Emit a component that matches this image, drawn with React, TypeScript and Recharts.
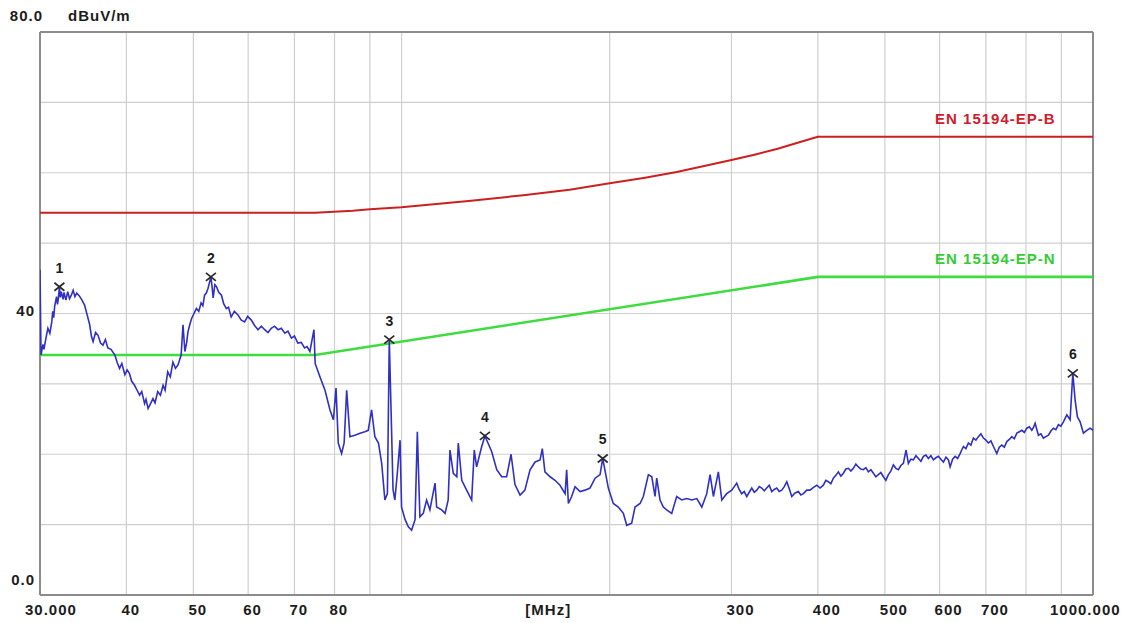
import React from 'react';
import {
  ComposedChart,
  Line,
  Scatter,
  XAxis,
  YAxis,
  CartesianGrid,
  ReferenceLine,
  ReferenceDot
} from 'recharts';

const scanLow: [number, number][] = [
  [30.0, 46.2], [30.1, 34.1], [30.3, 35.6], [30.4, 34.9], [30.6, 36.5], [30.8, 37.9], [31.0, 37.2],
  [31.2, 38.8], [31.3, 40.3], [31.4, 39.4], [31.5, 41.0], [31.7, 42.4], [31.8, 41.3], [31.9, 42.2],
  [32.0, 43.8], [32.1, 42.3], [32.2, 43.1], [32.4, 42.0], [32.5, 43.0], [32.7, 41.9], [32.9, 43.1],
  [33.1, 42.1], [33.3, 42.6], [33.5, 43.3], [33.7, 42.4], [33.9, 42.9], [34.2, 42.5], [34.5, 41.9],
  [34.8, 41.2], [35.1, 39.8], [35.4, 38.4], [35.6, 36.8], [35.8, 36.0], [36.1, 37.3], [36.4, 36.9],
  [36.7, 35.8], [37.0, 35.5], [37.3, 36.3], [37.6, 35.1], [38.0, 34.9], [38.5, 34.1], [38.8, 33.0],
  [39.1, 32.2], [39.4, 32.9], [39.8, 31.3], [40.1, 32.0], [40.4, 31.5], [40.7, 30.4], [41.1, 29.8],
  [41.4, 29.2], [41.8, 28.4], [42.1, 28.9], [42.5, 27.2], [42.7, 27.8], [43.0, 26.5], [43.3, 27.1],
  [43.7, 27.9], [44.0, 27.3], [44.4, 28.9], [44.8, 28.4], [45.2, 29.8], [45.5, 29.1], [45.9, 31.7],
  [46.3, 31.0], [46.7, 33.1], [47.1, 32.2], [47.5, 32.7], [48.0, 34.1], [48.3, 38.4], [48.6, 34.6],
  [48.9, 35.9], [49.1, 37.4], [49.4, 38.4], [49.7, 39.3], [50.1, 40.0], [50.5, 40.7], [50.9, 40.3],
  [51.3, 41.5], [51.6, 41.1], [51.9, 42.6], [52.2, 42.9], [52.5, 43.6], [53.0, 45.2], [53.2, 43.9],
  [53.4, 42.2], [53.7, 44.1], [54.0, 43.8], [54.4, 43.0], [54.9, 42.6], [55.3, 41.4], [55.8, 40.7],
  [56.2, 40.9], [56.7, 39.5], [57.3, 40.3], [58.0, 39.8], [58.6, 39.1], [59.3, 38.8], [59.9, 39.6],
  [60.6, 39.1], [61.3, 38.3], [62.0, 37.7], [62.7, 38.2], [63.4, 37.7], [64.1, 37.3], [64.8, 37.9],
  [65.5, 38.2], [66.3, 37.7], [67.0, 37.9], [67.8, 37.2], [68.5, 37.5], [69.3, 36.5], [70.0, 36.8],
  [70.8, 35.8], [71.6, 35.9], [72.4, 35.1], [73.0, 35.3], [73.7, 34.6], [74.7, 37.7], [75.0, 32.9]
];

const scanMid: [number, number][] = [
  [76.2, 31.0], [77.5, 29.1], [78.8, 26.3], [79.7, 24.9], [80.4, 29.4], [81.0, 21.6], [81.9, 20.1],
  [82.6, 21.6], [83.3, 29.1], [84.2, 22.5], [85.6, 22.7], [87.1, 23.0], [88.5, 23.2], [89.5, 23.4],
  [90.5, 26.3], [91.5, 22.5], [92.6, 21.6], [93.6, 18.7], [94.6, 13.5], [95.4, 14.4], [96.0, 36.3],
  [96.7, 24.0], [97.2, 15.0], [97.8, 13.5], [98.6, 17.3], [99.5, 22.0], [100.0, 12.5], [101.2, 10.7],
  [102.3, 9.7], [103.4, 9.2], [104.6, 10.7], [105.4, 23.2], [106.3, 11.1], [107.5, 11.6], [108.7, 13.5],
  [109.9, 12.1], [111.8, 15.9], [112.4, 12.5], [114.3, 12.1], [115.6, 11.6], [116.8, 13.5], [117.5, 20.6],
  [118.8, 17.3], [120.2, 16.8], [120.8, 21.6], [122.2, 16.3], [124.2, 14.9], [126.3, 13.5], [127.4, 20.6],
  [128.4, 18.2], [130.6, 21.1], [132.0, 22.6], [135.0, 20.4], [137.3, 17.8], [139.6, 16.8], [141.9, 16.8],
  [144.0, 20.0], [145.9, 15.7], [148.4, 14.2], [150.8, 14.9], [153.4, 17.8], [156.0, 18.9], [158.6, 19.2],
  [159.8, 20.8], [161.2, 17.5], [164.0, 16.8], [166.7, 16.3], [169.5, 15.6], [172.4, 14.4], [173.3, 17.8],
  [174.3, 13.0], [176.2, 14.0], [178.2, 15.4], [181.2, 14.7], [184.2, 14.9], [187.3, 15.2], [190.5, 16.6],
  [193.7, 17.1], [195.4, 19.4], [199.1, 15.2]
];

const scanHigh: [number, number][] = [
  [202.4, 13.0], [205.8, 12.5], [209.3, 11.6], [211.7, 9.9], [215.2, 10.2], [217.6, 12.5], [221.3, 13.0],
  [223.7, 14.0], [227.5, 17.1], [230.1, 16.8], [232.6, 14.0], [233.9, 16.6], [236.5, 13.5], [239.1, 12.5],
  [241.8, 12.1], [245.9, 11.6], [250.0, 14.0], [254.2, 13.5], [258.5, 13.7], [262.9, 13.5], [267.3, 13.7],
  [271.8, 12.5], [276.3, 14.4], [279.4, 17.1], [282.5, 14.0], [287.2, 17.5], [290.5, 13.5], [295.3, 14.4],
  [300.3, 14.9], [302.8, 15.4], [305.3, 15.9], [307.8, 15.0], [310.4, 14.4], [313.0, 14.7], [315.7, 14.0],
  [318.3, 14.6], [321.0, 15.2], [323.7, 14.6], [326.4, 14.9], [329.1, 15.4], [331.8, 15.2], [334.6, 14.8],
  [337.4, 15.2], [340.2, 15.6], [343.1, 14.7], [345.9, 15.0], [348.8, 15.2], [351.7, 14.7], [354.7, 14.9],
  [357.7, 15.4], [360.7, 16.1], [363.7, 15.1], [366.7, 14.0], [370.8, 14.5], [374.9, 14.7], [378.0, 14.2],
  [381.2, 14.4], [385.5, 14.9], [389.8, 14.9], [394.2, 15.3], [398.6, 15.6], [403.0, 15.2], [407.4, 15.6],
  [410.8, 16.3], [414.2, 16.1], [417.7, 15.8], [421.2, 16.6], [424.7, 17.0], [428.3, 17.5], [431.9, 16.9],
  [435.5, 17.3], [439.1, 17.9], [442.8, 18.0], [446.5, 17.6], [450.2, 18.0], [454.0, 18.6], [457.8, 18.2],
  [461.6, 17.9], [465.5, 17.8], [469.4, 18.1], [473.3, 17.5], [477.3, 17.8], [481.3, 17.3], [485.3, 16.8],
  [489.3, 17.1], [493.4, 17.4], [497.6, 16.8], [501.7, 16.3], [505.9, 17.1], [510.1, 17.6], [514.4, 18.5],
  [518.7, 18.0], [523.1, 17.8], [527.4, 18.4], [531.8, 18.7], [536.6, 20.6], [540.8, 18.7], [545.3, 19.3],
  [549.9, 19.2], [554.5, 19.8], [559.1, 19.4], [563.8, 19.0], [568.5, 19.7], [573.2, 19.9], [578.0, 19.4],
  [582.8, 19.8], [587.7, 19.2], [592.6, 19.5], [597.6, 19.7], [602.6, 19.3], [607.7, 18.9], [612.8, 19.6],
  [617.9, 19.2], [621.4, 18.2], [626.6, 19.3], [631.8, 19.7], [637.1, 19.4], [642.4, 20.1], [645.9, 20.6],
  [649.5, 21.1], [654.9, 20.8], [660.4, 21.6], [665.9, 21.3], [671.5, 22.3], [677.1, 22.0], [682.8, 22.5],
  [688.5, 22.9], [694.3, 22.3], [700.1, 22.0], [705.9, 21.6], [711.8, 21.9], [717.8, 21.1], [725.9, 20.1],
  [732.0, 21.0], [738.1, 21.3], [744.3, 21.0], [750.5, 21.8], [756.8, 22.1], [763.1, 22.5], [769.5, 22.2],
  [776.0, 23.0], [782.5, 23.2], [789.0, 23.4], [795.6, 23.1], [802.2, 23.7], [808.9, 23.9], [815.7, 23.4],
  [820.2, 23.8], [824.7, 24.4], [833.8, 22.7], [840.8, 22.9], [847.8, 22.3], [854.9, 22.5], [862.0, 22.7],
  [869.2, 23.3], [876.5, 23.7], [883.8, 23.5], [891.2, 24.2], [898.7, 24.0], [906.2, 24.6], [916.5, 25.6],
  [926.6, 24.9], [935.0, 31.5], [942.2, 27.7], [949.4, 25.3], [958.0, 24.6], [968.6, 23.0], [979.6, 23.4],
  [990.4, 23.7], [1000, 23.4]
];

// リミットライン
const limitB: [number, number][] = [
  [30, 54.3], [75, 54.3], [85, 54.6], [90, 54.8], [100, 55.1], [125, 56.0], [150, 56.8], [175, 57.6],
  [200, 58.5], [225, 59.3], [250, 60.1], [275, 61.0], [300, 61.8], [325, 62.6], [350, 63.4],
  [375, 64.3], [400, 65.1], [1000, 65.1]
];
const limitN: [number, number][] = [[30, 34.1], [75, 34.1], [400, 45.2], [1000, 45.2]];

// マーカー [番号, MHz, dBuV/m]
const markers: [number, number, number][] = [
  [1, 32.0, 43.8], [2, 53.0, 45.2], [3, 96.0, 36.3], [4, 132.0, 22.6], [5, 195.4, 19.4], [6, 935.0, 31.5]
];

const xTicks = [30, 40, 50, 60, 70, 80, 90, 100, 200, 300, 400, 500, 600, 700, 800, 900, 1000];
const xLabels: Record<number, string> = {
  30: '30.000', 40: '40', 50: '50', 60: '60', 70: '70', 80: '80',
  300: '300', 400: '400', 500: '500', 600: '600', 700: '700', 1000: '1000.000'
};
const yTicks = [0, 10, 20, 30, 40, 50, 60, 70, 80];

const toRows = (pts: [number, number][]) => pts.map(([f, v]) => ({ f, v }));
const traceData = toRows([...scanLow, ...scanMid, ...scanHigh]);
const limitBData = toRows(limitB);
const limitNData = toRows(limitN);
const markerData = markers.map(([n, f, v]) => ({ n, f, v }));

const FONT = '"Liberation Sans", Arial, sans-serif';
const TXT = '#1c1c1c';
const FRAME = '#8c8c8c';

const XTick = (props: any) => {
  const { x, y, payload } = props;
  const label = xLabels[payload.value];
  if (!label) return <g />;
  const shift = payload.value === 30 ? -15 : payload.value === 1000 ? -43 : -5;
  return (
    <text x={x + shift} y={y + 20} textAnchor="start" fontFamily={FONT} fontSize={15}
      fontWeight="bold" letterSpacing={1} fill={TXT}>
      {label}
    </text>
  );
};

const YTick = (props: any) => {
  const { x, y, payload } = props;
  const v = payload.value;
  const common = { fontFamily: FONT, fontSize: 15, fontWeight: 'bold' as const, letterSpacing: 1, fill: TXT };
  if (v === 80) {
    return (
      <g>
        <text x={x + 8} y={y - 11} textAnchor="end" {...common}>80.0</text>
        <text x={x + 33} y={y - 11} textAnchor="start" {...common}>dBuV/m</text>
      </g>
    );
  }
  if (v === 40) return <text x={x} y={y + 2} textAnchor="end" {...common}>40</text>;
  if (v === 0) return <text x={x} y={y - 10} textAnchor="end" {...common}>0.0</text>;
  return <g />;
};

// × 印と番号
const MarkerShape = (props: any) => {
  const { cx, cy, payload } = props;
  if (cx == null || cy == null) return <g />;
  return (
    <g>
      <line x1={cx - 5} y1={cy - 4} x2={cx + 5} y2={cy + 4} stroke="#2a2a2a" strokeWidth={1.7} />
      <line x1={cx - 5} y1={cy + 4} x2={cx + 5} y2={cy - 4} stroke="#2a2a2a" strokeWidth={1.7} />
      <text x={cx} y={cy - 14} textAnchor="middle" fontFamily={FONT} fontSize={14}
        fontWeight="bold" fill={TXT}>
        {payload.n}
      </text>
    </g>
  );
};

const Tag = (props: any) => {
  const { viewBox, text, color, dy = 0, anchor = 'start' } = props;
  if (!viewBox) return null;
  return (
    <text x={viewBox.x} y={viewBox.y + dy} textAnchor={anchor} fontFamily={FONT} fontSize={15}
      fontWeight="bold" letterSpacing={1} fill={color}>
      {text}
    </text>
  );
};

export default function App() {
  return (
    <div style={{ position: 'fixed', left: 0, top: 0, width: 1130, height: 623, background: '#fff' }}>
      <ComposedChart width={1130} height={623} margin={{ top: 32, right: 37, bottom: 0, left: 0 }}>
        <CartesianGrid stroke="#cfcfcf" strokeWidth={1.2} />
        <XAxis
          dataKey="f"
          type="number"
          scale="log"
          domain={[30, 1000]}
          ticks={xTicks}
          allowDataOverflow
          height={28}
          tickSize={0}
          tickMargin={0}
          axisLine={false}
          tickLine={false}
          tick={XTick}
          interval={0}
        />
        <YAxis
          type="number"
          domain={[0, 80]}
          ticks={yTicks}
          width={40}
          tickSize={0}
          tickMargin={5}
          axisLine={false}
          tickLine={false}
          tick={YTick}
          interval={0}
        />
        <ReferenceLine x={30} stroke={FRAME} strokeWidth={2} />
        <ReferenceLine x={1000} stroke={FRAME} strokeWidth={2} />
        <ReferenceLine y={0} stroke={FRAME} strokeWidth={2} />
        <ReferenceLine y={80} stroke={FRAME} strokeWidth={2} />

        <Line data={limitBData} dataKey="v" type="linear" stroke="#cc1f1f" strokeWidth={2}
          dot={false} isAnimationActive={false} />
        <Line data={limitNData} dataKey="v" type="linear" stroke="#3fdc3f" strokeWidth={2.6}
          dot={false} isAnimationActive={false} />
        <Line data={traceData} dataKey="v" type="linear" stroke="#3030c4" strokeWidth={1.6}
          dot={false} isAnimationActive={false} />
        <Scatter data={markerData} dataKey="v" shape={MarkerShape} isAnimationActive={false} />

        <ReferenceDot x={591} y={66.9} r={0} ifOverflow="visible"
          label={<Tag text="EN 15194-EP-B" color="#cc2030" />} />
        <ReferenceDot x={591} y={47.0} r={0} ifOverflow="visible"
          label={<Tag text="EN 15194-EP-N" color="#33cc33" />} />
        <ReferenceDot x={163} y={0} r={0} ifOverflow="visible"
          label={<Tag text="[MHz]" color={TXT} dy={20} anchor="middle" />} />
      </ComposedChart>
    </div>
  );
}
